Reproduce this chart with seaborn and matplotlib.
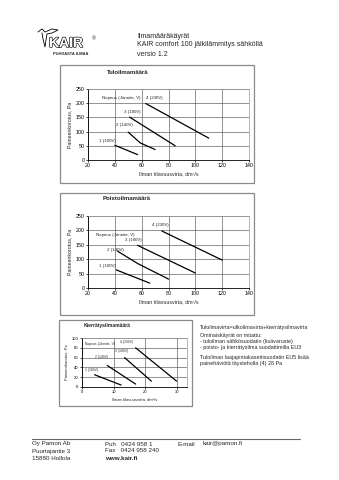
import matplotlib
matplotlib.use("Agg")
import matplotlib.pyplot as plt
import matplotlib.patheffects as pe
from matplotlib.patches import Rectangle
from matplotlib.lines import Line2D
import seaborn as sns
import pandas as pd

sns.set_theme(style="white")
plt.rcParams['font.family'] = ['Liberation Sans', 'DejaVu Sans']

W, H = 339, 480

# ---------------- data ----------------
speed_labels = ["1 (100V)", "2 (140V)", "3 (180V)", "4 (230V)"]
legend_title = "Nopeus (Jännite, V)"

# Tuloilmamäärä
supply_x = [[40, 57], [50, 59, 70], [51, 85], [63, 110]]
supply_y = [[52, 19], [98, 60, 37], [151, 50], [199, 77]]

# Poistoilmamäärä
exhaust_x = [[41, 66], [42, 57, 80], [57, 100], [75, 120]]
exhaust_y = [[63, 17], [128, 85, 31], [148, 52], [198, 97]]

# Kierrätysilmamäärä
recirc_x = [[4, 12.4], [8, 17], [13.5, 22], [17, 30]]
recirc_y = [[25, 4], [44, 6], [60, 12], [80, 12]]

big_xticks = [20, 40, 60, 80, 100, 120, 140]
big_yticks = [0, 50, 100, 150, 200, 250]
small_xticks = [0, 10, 20, 30]
small_yticks = [0, 20, 40, 60, 80, 100]

fig = plt.figure(figsize=(W / 100, H / 100), dpi=100)
fig.patch.set_facecolor("white")


def rect(x0, y0, x1, y1):
    return [x0 / W, 1 - y1 / H, (x1 - x0) / W, (y1 - y0) / H]


def ftext(x, y, s, **kw):
    fig.text(x / W, 1 - y / H, s, **kw)


def frame(x0, y0, x1, y1):
    fig.patches.append(Rectangle((x0 / W, 1 - y1 / H), (x1 - x0) / W, (y1 - y0) / H,
                                 transform=fig.transFigure, fill=False,
                                 edgecolor="#8a8a8a", linewidth=0.9))


def make_chart(ax_box, xs, ys, xlim, ylim, xticks, yticks, labels_pos, fs=3.8):
    ax = fig.add_axes(rect(*ax_box))
    for i, (x, y) in enumerate(zip(xs, ys)):
        df = pd.DataFrame({"x": x, "y": y})
        sns.lineplot(data=df, x="x", y="y", ax=ax, color="black", linewidth=0.9,
                     sort=False, estimator=None)
    ax.set_xlim(*xlim)
    ax.set_ylim(*ylim)
    ax.set_xticks(xticks)
    ax.set_yticks(yticks)
    ax.tick_params(axis="both", labelsize=fs, length=1.5, width=0.5, pad=1,
                   colors="black", bottom=True, left=True)
    ax.grid(True, color="#666666", linewidth=0.5)
    ax.set_axisbelow(True)
    for side in ["top", "right"]:
        ax.spines[side].set_color("#999999")
        ax.spines[side].set_linewidth(0.5)
    for side in ["bottom", "left"]:
        ax.spines[side].set_color("black")
        ax.spines[side].set_linewidth(0.6)
    ax.set_xlabel("Ilman tilavuusvirta, dm³/s", fontsize=fs, labelpad=2)
    ax.set_ylabel("Paineenkorotus, Pa", fontsize=fs, labelpad=2)
    for (s, (lx, ly)) in labels_pos:
        ax.text(lx, ly, s, fontsize=fs - 0.6, va="center", ha="left")
    return ax


# ---------------- header ----------------
ftext(137, 36, "Ilmamääräkäyrät", fontsize=5.0, va="center")
ftext(137, 45, "KAIR comfort 100 jälkilämmitys sähköllä", fontsize=5.0, va="center")
ftext(137, 54, "versio 1.2", fontsize=5.0, va="center")

# logo
ftext(49, 43, "KAIR", fontsize=10, fontweight="bold", color="white", va="center",
      path_effects=[pe.withStroke(linewidth=0.9, foreground="black")])
ftext(92, 39, "®", fontsize=3.8, va="center")
ftext(53, 54, "PUHDASTA ILMAA", fontsize=2.9, fontweight="bold", va="center")
bird_x = [38, 42, 45, 52, 58, 52, 47, 46, 45, 43, 42]
bird_y = [32, 29, 32, 29, 30, 33, 34, 40, 47, 39, 33]
fig.lines.append(Line2D([v / W for v in bird_x], [1 - v / H for v in bird_y],
                        transform=fig.transFigure, color="black", linewidth=0.6))

# ---------------- chart 1 ----------------
frame(60, 65, 254, 183)
ftext(128, 72, "Tuloilmamäärä", fontsize=4.3, fontweight="bold", ha="center", va="center")
make_chart((88, 89, 249, 160), supply_x, supply_y, (20, 140), (0, 250),
           big_xticks, big_yticks,
           [(legend_title, (30.5, 220)), (speed_labels[3], (63.5, 220)),
            (speed_labels[2], (47, 168)), (speed_labels[1], (41, 122)),
            (speed_labels[0], (28, 68))])

# ---------------- chart 2 ----------------
frame(60, 193, 254, 315)
ftext(127, 199, "Poistoilmamäärä", fontsize=4.3, fontweight="bold", ha="center", va="center")
make_chart((88, 216, 249, 288), exhaust_x, exhaust_y, (20, 140), (0, 250),
           big_xticks, big_yticks,
           [(speed_labels[3], (67.5, 218)), (legend_title, (26, 183)),
            (speed_labels[2], (47.5, 167)), (speed_labels[1], (34.5, 132)),
            (speed_labels[0], (28, 75))])

# ---------------- chart 3 ----------------
frame(59, 320, 192, 406)
ftext(107, 325, "Kierrätysilmamäärä", fontsize=3.6, fontweight="bold", ha="center", va="center")
make_chart((82, 338, 187, 387), recirc_x, recirc_y, (0, 33.3), (0, 100),
           small_xticks, small_yticks,
           [(legend_title, (1, 88)), (speed_labels[3], (12, 92)),
            (speed_labels[2], (10.5, 74)), (speed_labels[1], (4.2, 61)),
            (speed_labels[0], (0.8, 35))], fs=3.0)

# ---------------- side notes ----------------
notes = [
    (327, "Tuloilmavirta=ulkoilmavirta+kierrätysilmavirta"),
    (336, "Ominaiskäyrät on mitattu:"),
    (342, "- tuloilman sähkösuodatin (lisävaruste)"),
    (348, "- poisto- ja kierrätysilma suodattimilla EU3"),
    (358, "Tuloilman laajapintakasettisuodatin EU5 lisää"),
    (364, "painehäviötä täysteholla (4) 28 Pa"),
]
for y, s in notes:
    ftext(200, y, s, fontsize=3.85, va="center")

# ---------------- footer ----------------
fig.lines.append(Line2D([32 / W, 300 / W], [1 - 439 / H, 1 - 439 / H],
                        transform=fig.transFigure, color="#666666", linewidth=0.8))
fs_f = 4.5
ftext(32, 444, "Oy Pamon Ab", fontsize=fs_f, va="center")
ftext(32, 451, "Puurtajantie 3", fontsize=fs_f, va="center")
ftext(32, 458, "15880 Hollola", fontsize=fs_f, va="center")
ftext(105, 444, "Puh   0424 958 1", fontsize=fs_f, va="center")
ftext(105, 451, "Fax   0424 958 240", fontsize=fs_f, va="center")
ftext(105, 458, "www.kair.fi", fontsize=fs_f, fontweight="bold", va="center")
ftext(178, 444, "E-mail", fontsize=fs_f, va="center")
ftext(203, 444, "kair@pamon.fi", fontsize=fs_f, va="center")

fig.savefig("out.png", dpi=100, facecolor="white")
